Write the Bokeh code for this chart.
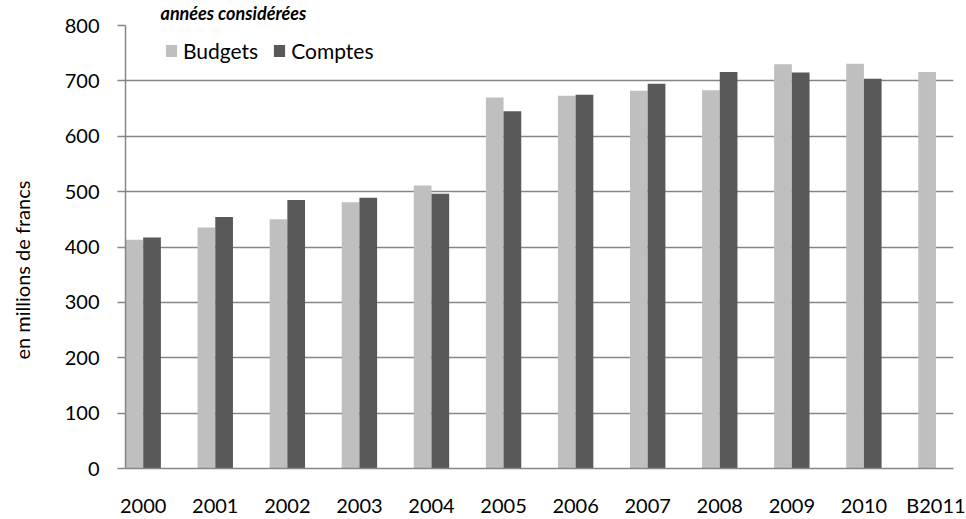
from bokeh.embed import file_html
from bokeh.models import (ColumnDataSource, FixedTicker, Legend, LegendItem,
                          Range1d, Title)
from bokeh.plotting import figure
from bokeh.resources import INLINE
from bokeh.transform import dodge

# Annual figures, in millions of francs
years = ["2000", "2001", "2002", "2003", "2004", "2005",
         "2006", "2007", "2008", "2009", "2010", "B2011"]
budgets = [413, 435, 450, 481, 511, 670, 673, 682, 683, 730, 731, 716]
comptes = [417, 454, 485, 489, 496, 645, 675, 695, 716, 715, 704, None]
y_ticks = [0, 100, 200, 300, 400, 500, 600, 700, 800]

FONT = "Lato"
GRID = "#868686"
BAR_W = 0.2456

idx = list(range(len(years)))
src_b = ColumnDataSource(dict(x=idx, top=budgets))
c_idx = [i for i, v in zip(idx, comptes) if v is not None]
src_c = ColumnDataSource(dict(x=c_idx, top=[v for v in comptes if v is not None]))

p = figure(width=966, height=519,
           x_range=Range1d(-BAR_W, len(years) - 1 + BAR_W * 0.99),
           y_range=Range1d(0, 800),
           output_backend="svg", toolbar_location=None,
           min_border_left=125, min_border_right=13,
           min_border_top=25, min_border_bottom=48)
p.outline_line_color = None
p.background_fill_color = "white"
p.border_fill_color = "white"

# chart title (top band)
p.title.text = "années considérées"
p.title.align = "left"
p.title.offset = 35
p.title.standoff = 0
p.title.vertical_align = "top"
p.title.text_font = FONT
p.title.text_font_style = "bold italic"
p.title.text_font_size = "18px"
p.title.text_color = "black"

rb = p.vbar(x=dodge("x", -BAR_W / 2), top="top", width=BAR_W, source=src_b,
            fill_color="#BFBFBF", line_color=None)
rc = p.vbar(x=dodge("x", BAR_W / 2), top="top", width=BAR_W, source=src_c,
            fill_color="#595959", line_color=None)

# category axis
p.xaxis.ticker = FixedTicker(ticks=idx)
p.xaxis.major_label_overrides = {i: y for i, y in zip(idx, years)}
p.xaxis.major_tick_out = 0
p.xaxis.major_tick_in = 0
p.xaxis.minor_tick_line_color = None
p.xaxis.axis_line_color = GRID
p.xaxis.axis_line_width = 1.5
p.xaxis.major_label_standoff = 24
p.xaxis.major_label_text_font = FONT
p.xaxis.major_label_text_font_size = "20px"
p.xaxis.major_label_text_color = "black"

# value axis
p.yaxis.ticker = FixedTicker(ticks=y_ticks)
p.yaxis.major_tick_out = 8
p.yaxis.major_tick_in = 0
p.yaxis.major_tick_line_color = GRID
p.yaxis.major_tick_line_width = 1.5
p.yaxis.minor_tick_line_color = None
p.yaxis.axis_line_color = GRID
p.yaxis.axis_line_width = 1.5
p.yaxis.major_label_standoff = 18
p.yaxis.major_label_text_font = FONT
p.yaxis.major_label_text_font_size = "20px"
p.yaxis.major_label_text_color = "black"

p.xgrid.grid_line_color = None
p.ygrid.grid_line_color = GRID
p.ygrid.grid_line_width = 1.5

legend = Legend(items=[LegendItem(label="Budgets", renderers=[rb]),
                       LegendItem(label="Comptes", renderers=[rc])],
                orientation="horizontal", location=(39, 405),
                glyph_width=14, glyph_height=15, label_standoff=5,
                spacing=14, padding=0, margin=0,
                border_line_color=None, background_fill_alpha=0,
                label_text_font=FONT, label_text_font_size="21px",
                label_text_color="black")
p.add_layout(legend)

# blank spacer between the tick labels and the value-axis title
p.add_layout(Title(text=" ", standoff=0, text_font=FONT,
                   text_font_size="20px"), "left")
# value-axis title, drawn in the outer part of the left border
p.add_layout(Title(text="en millions de francs", align="left", offset=109,
                   vertical_align="top", standoff=0,
                   text_font=FONT, text_font_size="20px",
                   text_font_style="normal", text_color="black"), "left")

with open("out.html", "w") as f:
    f.write(file_html(p, INLINE))
